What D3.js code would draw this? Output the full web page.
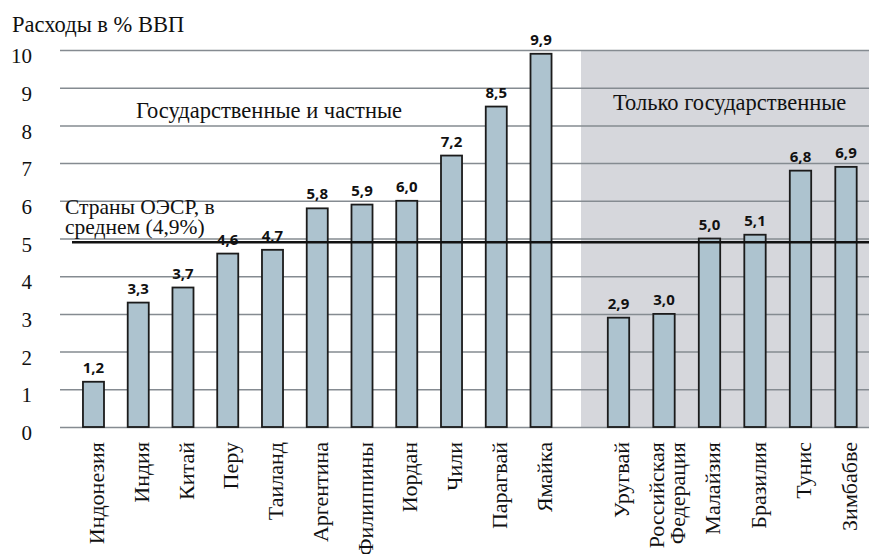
<!DOCTYPE html>
<html>
<head>
<meta charset="utf-8">
<script src="https://cdn.jsdelivr.net/npm/d3@7"></script>
</head>
<body style="margin:0">
<script>
// countries, public + private spending
var countriesA = ["Индонезия", "Индия", "Китай", "Перу", "Таиланд", "Аргентина", "Филиппины", "Иордан", "Чили", "Парагвай", "Ямайка"]
var valuesA = [1.2, 3.3, 3.7, 4.6, 4.7, 5.8, 5.9, 6.0, 7.2, 8.5, 9.9]
// public only
var countriesB = ["Уругвай", "Российская Федерация", "Малайзия", "Бразилия", "Тунис", "Зимбабве"]
var valuesB = [2.9, 3.0, 5.0, 5.1, 6.8, 6.9]
var yTicks = [0, 1, 2, 3, 4, 5, 6, 7, 8, 9, 10]
var oecdAvg = 4.9

var SERIF = "'Liberation Serif', serif"

var W = 869, H = 554
var svg = d3.select("body").append("svg")
  .attr("width", W)
  .attr("height", H)
  .style("display", "block")

var y = d3.scaleLinear().domain([0, 10]).range([427, 50])
var xA = d3.scaleBand().domain(countriesA).range([71.1, 563.4]).paddingInner(0.53).paddingOuter(0.265)
var xB = d3.scaleBand().domain(countriesB).range([595.75, 868.75]).paddingInner(0.53).paddingOuter(0.265)

var fmt = function(v){ return d3.format(".1f")(v).replace(".", ",") }

// shaded block for "public only"
svg.append("rect")
  .attr("x", 581).attr("y", y(10))
  .attr("width", W - 581).attr("height", y(0) - y(10))
  .attr("fill", "#d6d7dc")

// grid + tick labels
var axis = svg.append("g")
  .attr("transform", "translate(60,0)")
  .call(d3.axisLeft(y).tickValues(yTicks).tickSize(-(W - 60)).tickFormat(d3.format("d")))
axis.select(".domain").remove()
axis.selectAll(".tick line").attr("stroke", "#858b91").attr("stroke-width", 1.5)
axis.selectAll(".tick text")
  .attr("x", -28).attr("dy", "0.6em")
  .attr("fill", "#111")
  .style("font-family", SERIF)
  .style("font-size", "21px")

function drawGroup(names, vals, x){
  var g = svg.append("g")
  var data = names.map(function(n, i){ return {name: n, v: vals[i]} })
  g.selectAll("rect")
    .data(data).enter()
    .append("rect")
    .attr("x", function(d){ return x(d.name) })
    .attr("y", function(d){ return y(d.v) })
    .attr("width", x.bandwidth())
    .attr("height", function(d){ return y(0) - y(d.v) })
    .attr("fill", "#adc3cf")
    .attr("stroke", "#1b1b1b")
    .attr("stroke-width", 1.8)

  g.selectAll(".val")
    .data(data).enter()
    .append("text")
    .attr("class", "val")
    .attr("x", function(d){ return x(d.name) + x.bandwidth() / 2 })
    .attr("y", function(d){ return y(d.v) - 9 })
    .attr("text-anchor", "middle")
    .style("font-family", "'Open Sans', sans-serif")
    .style("font-weight", "700")
    .style("font-size", "15px")
    .attr("fill", "#111")
    .text(function(d){ return fmt(d.v) })

  var lab = g.selectAll(".lab")
    .data(data).enter()
    .append("text")
    .attr("class", "lab")
    .attr("transform", function(d){ return "translate(" + (x(d.name) + x.bandwidth() / 2 + 3) + ",442) rotate(-90)" })
    .attr("text-anchor", "end")
    .style("font-family", SERIF)
    .style("font-size", "22px")
    .attr("fill", "#111")
  lab.each(function(d){
    var parts = d.name.split(" ")
    var t = d3.select(this)
    parts.forEach(function(p, i){
      t.append("tspan")
        .attr("x", 0)
        .attr("dy", i == 0 ? (parts.length > 1 ? "-0.15em" : "0.35em") : "0.98em")
        .text(p)
    })
  })
}

drawGroup(countriesA, valuesA, xA)
drawGroup(countriesB, valuesB, xB)

// OECD average line
svg.append("line")
  .attr("x1", 72).attr("x2", W)
  .attr("y1", y(oecdAvg)).attr("y2", y(oecdAvg))
  .attr("stroke", "#111").attr("stroke-width", 2.5)

var oecd = svg.append("text").attr("x", 65).attr("y", 214)
  .style("font-family", SERIF)
  .style("font-size", "21.5px").attr("fill", "#111")
oecd.append("tspan").attr("x", 65).text("Страны ОЭСР, в")
oecd.append("tspan").attr("x", 65).attr("dy", 20).text("среднем (4,9%)")

var notes = [
  {t: "Расходы в % ВВП", x: 12, y: 32},
  {t: "Государственные и частные", x: 136, y: 118},
  {t: "Только государственные", x: 613, y: 110}
]
svg.selectAll(".note").data(notes).enter()
  .append("text").attr("class", "note")
  .attr("x", function(d){ return d.x }).attr("y", function(d){ return d.y })
  .style("font-family", SERIF)
  .style("font-size", "22.5px").attr("fill", "#111")
  .text(function(d){ return d.t })
</script>
</body>
</html>
